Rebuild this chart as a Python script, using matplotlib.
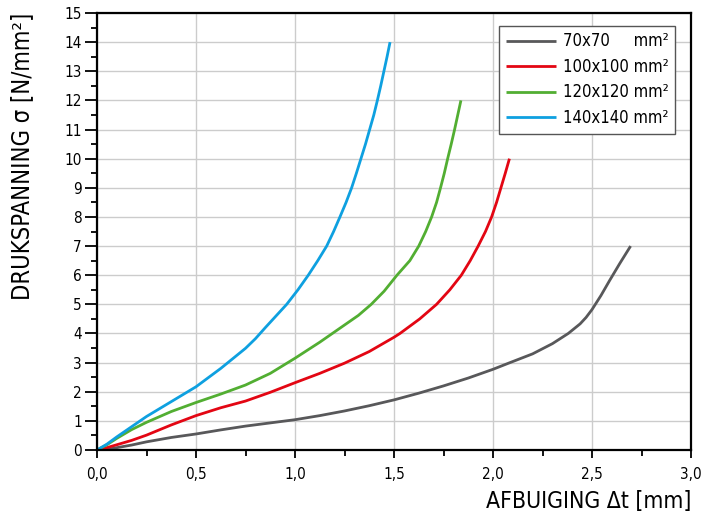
import matplotlib.pyplot as plt
from matplotlib.ticker import MultipleLocator

# curves (deflection in mm, stress in N/mm2)
x_70 = [0, 0.05, 0.1, 0.175, 0.25, 0.375, 0.5, 0.625, 0.75, 0.875, 1.0, 1.125, 1.25, 1.375, 1.5,
        1.625, 1.75, 1.875, 2.0, 2.086, 2.2, 2.3, 2.38, 2.44, 2.47, 2.5, 2.545, 2.59, 2.64, 2.695]
y_70 = [0, 0.02, 0.08, 0.17, 0.28, 0.43, 0.55, 0.69, 0.82, 0.93, 1.04, 1.18, 1.34, 1.52, 1.72,
        1.95, 2.2, 2.47, 2.77, 3.0, 3.3, 3.65, 4.0, 4.33, 4.55, 4.82, 5.3, 5.83, 6.4, 7.0]

x_100 = [0, 0.05, 0.1, 0.175, 0.25, 0.375, 0.5, 0.625, 0.75, 0.875, 1.0, 1.125, 1.25, 1.375, 1.5,
         1.53, 1.63, 1.715, 1.782, 1.84, 1.885, 1.925, 1.962, 1.993, 2.018, 2.04, 2.062, 2.083]
y_100 = [0, 0.08, 0.18, 0.33, 0.51, 0.86, 1.18, 1.45, 1.68, 1.98, 2.31, 2.63, 2.98, 3.38, 3.87,
         4.0, 4.5, 5.0, 5.5, 6.0, 6.5, 7.0, 7.5, 8.0, 8.5, 9.0, 9.5, 10.0]

x_120 = [0, 0.05, 0.1, 0.175, 0.25, 0.375, 0.5, 0.625, 0.75, 0.875, 1.0, 1.125, 1.25, 1.32, 1.385,
         1.45, 1.515, 1.58, 1.625, 1.66, 1.69, 1.715, 1.735, 1.754, 1.771, 1.789, 1.806, 1.822, 1.838]
y_120 = [0, 0.18, 0.4, 0.7, 0.95, 1.32, 1.63, 1.92, 2.23, 2.63, 3.15, 3.7, 4.29, 4.62, 5.0,
         5.45, 6.0, 6.5, 7.0, 7.5, 8.0, 8.5, 9.0, 9.5, 10.0, 10.5, 11.0, 11.5, 12.0]

x_140 = [0, 0.05, 0.1, 0.175, 0.25, 0.375, 0.5, 0.625, 0.75, 0.8, 0.85, 0.958, 1.015, 1.067, 1.115,
         1.16, 1.195, 1.227, 1.258, 1.286, 1.31, 1.333, 1.356, 1.377, 1.398, 1.416, 1.433, 1.449, 1.465, 1.48]
y_140 = [0, 0.2, 0.45, 0.8, 1.15, 1.66, 2.17, 2.8, 3.49, 3.82, 4.2, 5.0, 5.5, 6.0, 6.5,
         7.0, 7.5, 8.0, 8.5, 9.0, 9.5, 10.0, 10.5, 11.0, 11.5, 12.0, 12.5, 13.0, 13.5, 14.0]

labels = ['70x70     mm²', '100x100 mm²', '120x120 mm²', '140x140 mm²']
colors = ['#58585a', '#e30613', '#52ae32', '#0ea0e0']

x_ticks = [0, 0.5, 1.0, 1.5, 2.0, 2.5, 3.0]
x_tick_labels = ['0,0', '0,5', '1,0', '1,5', '2,0', '2,5', '3,0']
y_ticks = list(range(0, 16))

plt.rcParams['font.family'] = ['DejaVu Sans']
plt.rcParams['font.stretch'] = 'condensed'

fig = plt.figure(figsize=(7.02, 5.17), dpi=100)
ax = fig.add_axes([97 / 702, 1 - 450 / 517, 594 / 702, 437 / 517])

series = [(x_70, y_70), (x_100, y_100), (x_120, y_120), (x_140, y_140)]
for (xs, ys), lab, col in zip(series, labels, colors):
    ax.plot(xs, ys, color=col, lw=2.0, label=lab, solid_capstyle='butt', solid_joinstyle='round')

ax.set_xlim(0, 3.0)
ax.set_ylim(0, 15)
ax.set_xticks(x_ticks)
ax.set_xticklabels(x_tick_labels)
ax.set_yticks(y_ticks)
ax.xaxis.set_minor_locator(MultipleLocator(0.25))
ax.yaxis.set_minor_locator(MultipleLocator(0.5))
ax.grid(True, which='major', color='#cccccc', lw=1.0)
ax.set_axisbelow(True)

for s in ax.spines.values():
    s.set_linewidth(1.6)
    s.set_color('black')

ax.tick_params(axis='x', which='major', direction='out', length=6, width=1.3, labelsize=11, pad=6)
ax.tick_params(axis='x', which='minor', direction='out', length=4, width=1.3)
ax.tick_params(axis='y', which='major', direction='out', length=9, width=1.3, labelsize=11, pad=2)
ax.tick_params(axis='y', which='minor', direction='out', length=4.5, width=1.3)

ax.set_xlabel('AFBUIGING Δt [mm]', fontsize=16.5, loc='right', labelpad=6)
ax.set_ylabel('DRUKSPANNING σ [N/mm²]', fontsize=17, loc='top', labelpad=22)

leg = ax.legend(loc='upper right', bbox_to_anchor=(0.973, 0.971), fontsize=12,
                frameon=True, fancybox=False, edgecolor='#555555', framealpha=1,
                handlelength=3.0, handletextpad=0.4, borderpad=0.4, labelspacing=0.45,
                borderaxespad=0)
leg.get_frame().set_linewidth(1.0)

fig.savefig('out.png', dpi=100)
plt.close()
